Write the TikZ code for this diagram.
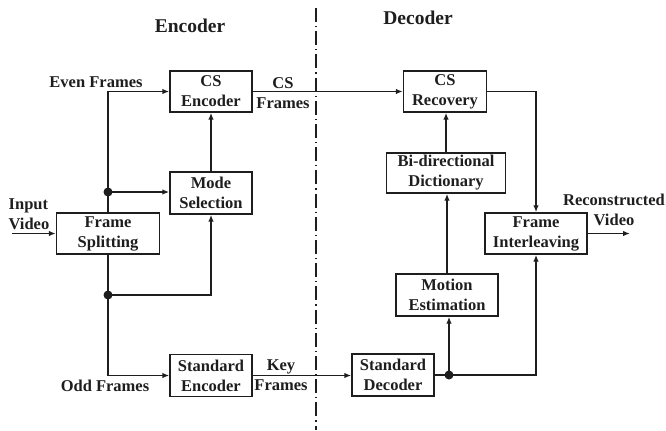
\documentclass[tikz,border=0pt]{standalone}
\usepackage{fontspec}
\setmainfont{Liberation Serif}
\usepackage{tikz}
\usetikzlibrary{arrows.meta}

\definecolor{ink}{RGB}{30,30,30}

\begin{document}
\begin{tikzpicture}[x=1bp,y=-1bp,
        font=\fontsize{16.5bp}{20bp}\selectfont\bfseries,
        every node/.style={text=ink},
        box/.style={draw=ink,line width=1.4bp,align=center,inner sep=0pt},
        arr/.style={draw=ink,line width=1.4bp,-{Latex[length=7bp,width=5.5bp]}},
        wire/.style={draw=ink,line width=1.4bp},
        junc/.style={fill=ink,circle,inner sep=0pt,minimum size=9bp}]
        \useasboundingbox (0,0) rectangle (666,430);

        % encoder side
        \node[box,minimum width=82bp,minimum height=41bp] (csenc) at (211,91.5) {CS\\Encoder};
        \node[box,minimum width=82bp,minimum height=42bp] (mode) at (211,193) {Mode\\Selection};
        \node[box,minimum width=103bp,minimum height=41bp] (split) at (108,233.5) {Frame\\Splitting};
        \node[box,minimum width=82bp,minimum height=42bp] (stdenc) at (211,375.5) {Standard\\Encoder};

        % decoder side
        \node[box,minimum width=83bp,minimum height=41bp] (csrec) at (445,91.5) {CS\\Recovery};
        \node[box,minimum width=119bp,minimum height=40bp] (dict) at (446,173) {Bi-directional\\Dictionary};
        \node[box,minimum width=102bp,minimum height=42bp] (motion) at (447,295) {Motion\\Estimation};
        \node[box,minimum width=82bp,minimum height=42bp] (stddec) at (393,375) {Standard\\Decoder};
        \node[box,minimum width=102bp,minimum height=41bp] (inter) at (536,233.5) {Frame\\Interleaving};

        % titles and labels
        \node (enctitle) at (190,26) {\fontsize{19.5bp}{22bp}\selectfont Encoder};
        \node (dectitle) at (418,18) {\fontsize{19.5bp}{22bp}\selectfont Decoder};
        \node (even) at (96,82) {Even Frames};
        \node (odd) at (105,386) {Odd Frames};
        \node[align=left,inner sep=0pt] (invid) at (29,214) {Input\\Video};
        \node[align=center] (csfr) at (283,93) {CS\\Frames};
        \node[align=center] (keyfr) at (281,375) {Key\\Frames};
        \node[align=center,inner sep=0pt] (recvid) at (614,210) {Reconstructed\\Video};

        % encoder/decoder border
        \coordinate (bordtop) at (316,8);
        \coordinate (bordbot) at (316,430);
        \draw[ink,line width=1.1bp,dash pattern=on 14bp off 4bp on 1.2bp off 4bp] (bordtop) -- (bordbot);

        % junctions
        \coordinate (j1) at (split.north |- 0,192);
        \coordinate (j2) at (split.south |- 0,295);
        \coordinate (j3) at (449,375);
        \coordinate (vin) at (12,233.5);
        \coordinate (vout) at (630,233.5);

        \draw[arr] (vin) -- (split.west);
        \draw[wire] (split.north) -- (j1);
        \draw[arr] (j1) |- (csenc.west);
        \draw[arr] (j1) -- (j1 -| mode.west);
        \draw[wire] (split.south) -- (j2);
        \draw[arr] (j2) -| (mode.south);
        \draw[arr] (j2) |- (stdenc.west);
        \draw[arr] (mode.north) -- (csenc.south);
        \draw[arr] (csenc.east) -- (csrec.west);
        \draw[arr] (stdenc.east) -- (stdenc.east -| stddec.west);

        \draw[wire] (stddec.east) -- (j3);
        \draw[arr] (j3) -- (j3 |- motion.south);
        \draw[arr] (j3) -| (inter.south);
        \draw[arr] (motion.north) -- (motion.north |- dict.south);
        \draw[arr] (dict.north) -- (dict.north |- csrec.south);
        \draw[arr] (csrec.east) -| (inter.north);
        \draw[arr] (inter.east) -- (vout);

        \node[junc] at (j1) {};
        \node[junc] at (j2) {};
        \node[junc] at (j3) {};
\end{tikzpicture}
\end{document}
